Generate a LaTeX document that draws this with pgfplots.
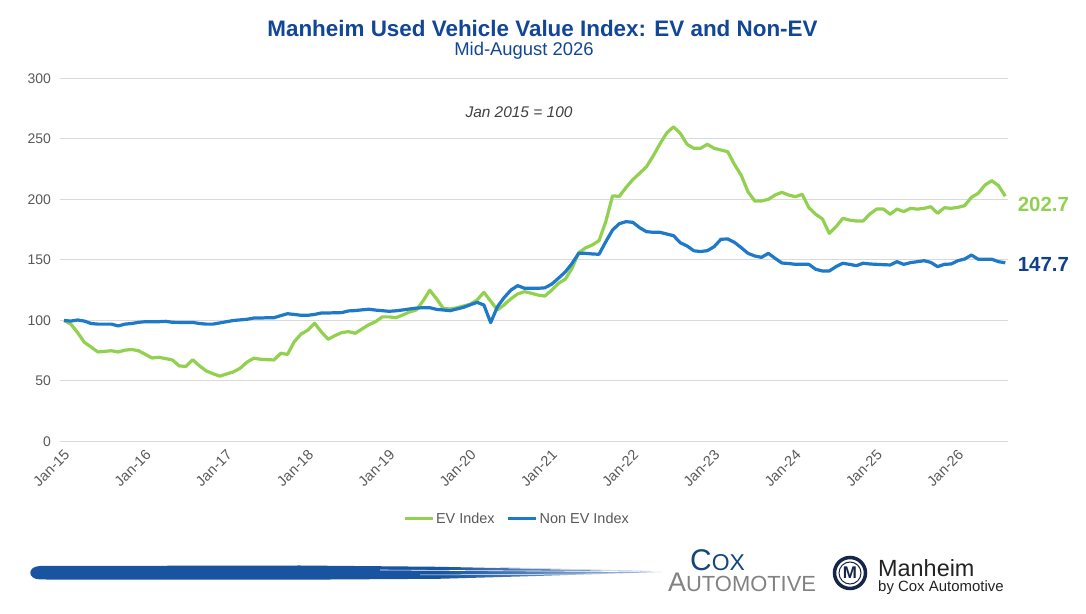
\documentclass[border=0pt]{standalone}
\usepackage{fontspec}
\setmainfont{Liberation Sans}
\usepackage{pgfplots}
\pgfplotsset{compat=1.18}
\usepackage{pgfplotstable}
\definecolor{evgreen}{RGB}{146,208,80}
\definecolor{nonblue}{RGB}{30,122,200}
\definecolor{titleblue}{RGB}{18,70,150}
\definecolor{ticktxt}{RGB}{89,89,89}
\definecolor{gridgray}{RGB}{217,217,217}
\definecolor{labelblue}{RGB}{14,64,140}
\definecolor{coxblue}{RGB}{18,70,125}
\definecolor{coxgray}{RGB}{130,130,130}
\definecolor{brushblue}{RGB}{24,84,160}
\definecolor{navy}{RGB}{22,38,75}

\pgfplotstableread{
m ev nonev
0 100 100
1 97 99.5
2 90 100.4
3 82 99.5
4 78 97.5
5 74 97
6 74.5 97
7 75 97
8 74 95.5
9 75.5 97
10 76 97.5
11 75 98.5
12 72 99
13 69 99
14 69.6 99
15 68.5 99.3
16 67.4 98.5
17 62.5 98.4
18 62 98.4
19 67.6 98.4
20 62.5 97.5
21 58.3 97
22 56 97
23 54 98
24 55.8 99
25 57.5 100
26 60.5 100.5
27 65.5 101
28 68.8 102
29 68 102
30 67.6 102.3
31 67.4 102.3
32 72.9 104
33 72 105.6
34 82.5 105
35 88.8 104.3
36 92 104.3
37 97.7 105
38 90.5 106.2
39 84.5 106.2
40 87.5 106.4
41 90 106.5
42 90.8 107.9
43 89.4 108.2
44 93 108.8
45 96.5 109.3
46 99 108.6
47 103 108.1
48 103 107.6
49 102.3 108
50 104.5 108.7
51 107 109.5
52 108.7 110.2
53 116 110.6
54 125 110.6
55 118 109.2
56 110 108.7
57 109.5 108.1
58 110.5 109.5
59 112 110.9
60 113.5 113
61 117 115
62 123.3 112.8
63 116 98.2
64 108.7 111.4
65 113 119
66 118 125.2
67 122 128.8
68 123.8 126.6
69 122.5 126.6
70 121 126.6
71 120.2 127
72 125 130
73 130.7 134.9
74 134 140
75 143 147
76 156 155.5
77 160 155.5
78 162.4 155
79 166 154.7
80 181.7 165.1
81 203 174.8
82 202.6 180
83 210 181.7
84 216.5 181.1
85 221.7 176.7
86 227 173.4
87 236 172.9
88 246 172.9
89 255 171.5
90 260 170.1
91 254.7 164.3
92 245.6 161.6
93 242.3 157.6
94 242.3 157
95 245.6 157.7
96 242.3 161
97 240.9 167.1
98 239.5 167.4
99 229 164.6
100 220 160.2
101 206.4 155.5
102 198.8 153.3
103 198.8 152.2
104 200.1 155.5
105 203.7 151.4
106 205.9 147.5
107 203.7 147.1
108 202.3 146.4
109 204.3 146.4
110 193.2 146.4
111 187.8 142.3
112 183.9 140.9
113 172 140.9
114 177.5 144.5
115 184.4 147.3
116 183 146.4
117 182.2 145.3
118 182.2 147.3
119 188 146.7
120 192.1 146.4
121 192.1 146.1
122 187.8 145.9
123 192.1 148.6
124 190 146.4
125 192.7 147.8
126 192 148.6
127 192.7 149.4
128 194 148
129 188.6 144.5
130 193.2 146.4
131 192.7 146.7
132 193.5 149.4
133 194.9 150.8
134 201.8 154.1
135 205.1 150.6
136 212 150.6
137 215.5 150.6
138 211.4 148.6
139 202.7 147.7
}\data

\begin{document}
\begin{tikzpicture}[x=1bp,y=1bp]
\useasboundingbox (0,0) rectangle (1086,614);
\fill[white] (0,0) rectangle (1086,614);
\begin{axis}[
  at={(60bp,172.5bp)}, anchor=south west,
  scale only axis, width=948bp, height=363bp,
  xmin=-0.6, xmax=139.4, ymin=0, ymax=300,
  ytick={0,50,...,300},
  xtick={0,12,...,132},
  xticklabels={Jan-15,Jan-16,Jan-17,Jan-18,Jan-19,Jan-20,Jan-21,Jan-22,Jan-23,Jan-24,Jan-25,Jan-26},
  ymajorgrids, grid style={gridgray, line width=1bp},
  axis line style={draw=none},
  major tick length=0pt,
  yticklabel style={font=\fontsize{14}{16}\selectfont, text=ticktxt},
  xticklabel style={font=\fontsize{14.5}{16}\selectfont, text=ticktxt},
  /pgf/number format/assume math mode=true,
  xticklabel style={xshift=3bp, yshift=-11bp, rotate=45, anchor=east, inner sep=0pt},
  yticklabel style={anchor=east, inner sep=0pt, xshift=-9bp},
  clip=false,
  legend style={at={(axis description cs:0.482,-0.2135)}, anchor=center, draw=none, fill=none,
    font=\fontsize{14.5}{17}\selectfont, text=ticktxt,
    /tikz/every even column/.append style={column sep=10bp}},
  legend columns=2,
  legend image code/.code={\draw[#1, line width=3bp] (0bp,0bp) -- (28bp,0bp);},
]
\addplot[evgreen, line width=3.2bp, line join=round] table[x=m, y=ev]{\data};
\addlegendentry{EV Index}
\addplot[nonblue, line width=3.2bp, line join=round] table[x=m, y=nonev]{\data};
\addlegendentry{Non EV Index}
\node[anchor=west, xshift=9bp, yshift=-8bp, font=\bfseries\fontsize{20.5}{24}\selectfont, text=evgreen] at (axis cs:139,202.7) {202.7};
\node[anchor=west, xshift=9bp, yshift=-2bp, font=\bfseries\fontsize{20.5}{24}\selectfont, text=labelblue] at (axis cs:139,147.7) {147.7};
\end{axis}
% titles
\node[font=\bfseries\fontsize{22.5}{26}\selectfont, text=titleblue] at (542.5,586) {Manheim Used Vehicle Value Index: EV and Non-EV};
\node[font=\fontsize{18.5}{22}\selectfont, text=titleblue] at (524,563) {Mid-August 2026};
\node[font=\itshape\fontsize{15.5}{18}\selectfont, text={rgb,255:red,64;green,64;blue,64}] at (519,502) {Jan 2015 = 100};
% brush stroke
\fill[brushblue] (40,34.5) .. controls (27,35) and (27,47.5) .. (40,48) -- (300,48.5) -- (440,47.2) -- (440,35.2) -- (300,34.3) -- cycle;
\shade[left color=brushblue, right color=brushblue!35!white] (439,47.2) -- (520,45.5) -- (600,43.5) -- (662,42) -- (600,40) -- (520,37.5) -- (439,35.2) -- cycle;
\draw[white, line width=0.6bp] (380,44) -- (640,42.3);
\draw[white, line width=0.5bp] (420,39) -- (620,40.2);
\draw[white!70!brushblue, line width=0.5bp] (500,46.5) -- (650,42.8);
% Cox Automotive
\node[anchor=base west, inner sep=0pt, text=coxblue] at (690,43) {\fontsize{30}{30}\selectfont C\fontsize{23}{23}\selectfont OX};
\node[anchor=base west, inner sep=0pt, text=coxgray] at (668,22) {\fontsize{27}{27}\selectfont A\fontsize{22}{22}\selectfont UTOMOTIVE};
% Manheim
\draw[navy, line width=3.5bp] (850,41) circle (15.5);
\draw[navy, line width=1bp] (850,41) circle (11);
\node[navy, font=\bfseries\fontsize{17}{17}\selectfont] at (850,41) {M};
\node[anchor=base west, inner sep=0pt, text={rgb,255:red,35;green,35;blue,35}, font=\fontsize{23.5}{24}\selectfont] at (878,37) {Manheim};
\node[anchor=base west, inner sep=0pt, text={rgb,255:red,35;green,35;blue,35}, font=\fontsize{15}{16}\selectfont] at (878,22) {by Cox Automotive};
\end{tikzpicture}
\end{document}
